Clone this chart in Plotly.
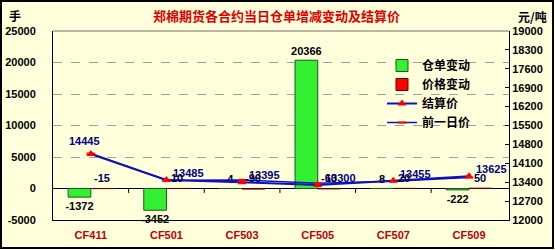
import plotly.graph_objects as go

categories = ['CF411', 'CF501', 'CF503', 'CF505', 'CF507', 'CF509']
warehouse_change = [-1372, -3452, 4, 20366, 8, -222]
price_change = [-15, 10, -90, -60, 20, 50]
settle_price = [14445, 13485, 13395, 13300, 13455, 13625]
prev_price = [14460, 13475, 13485, 13360, 13435, 13575]

left_ticks = [-5000, 0, 5000, 10000, 15000, 20000, 25000]
right_ticks = [12000, 12700, 13400, 14100, 14800, 15500, 16200, 16900, 17600, 18300, 19000]

W, H = 555, 250
ML, MR, MT, MB = 53, 46, 31, 30
PW, PH = W - ML - MR, H - MT - MB

def px_x(p):
    return (p - ML) / PW

def px_y(p):
    return (H - MB - p) / PH

BG = '#FFFFDC'
BOLD = dict(family='Liberation Sans, Arial, sans-serif', weight='bold')
CJK = dict(family='Noto Sans CJK SC, sans-serif', weight='bold')

fig = go.Figure()

fig.add_trace(go.Bar(
    x=categories, y=warehouse_change, name='仓单变动',
    marker=dict(color='#33F033', line=dict(color='#1a5a1a', width=1)),
    text=[str(v) for v in warehouse_change], textposition='outside',
    constraintext='none',
    textfont=dict(size=11, color='black', **BOLD), cliponaxis=False,
))
fig.add_trace(go.Bar(
    x=categories, y=price_change, name='价格变动',
    marker=dict(color='#FF0000', line=dict(color='#600000', width=1)),
    textposition='none',
))
fig.add_trace(go.Scatter(
    x=categories, y=prev_price, name='前一日价', yaxis='y2',
    mode='lines+markers',
    line=dict(color='#1010C0', width=1.5),
    marker=dict(symbol='line-ew', size=6, color='red', line=dict(color='red', width=2)),
))
fig.add_trace(go.Scatter(
    x=categories, y=settle_price, name='结算价', yaxis='y2',
    mode='lines+markers',
    line=dict(color='#1010C0', width=2),
    marker=dict(symbol='triangle-up', size=8, color='red'),
))

# settlement price labels
for i, (c, v) in enumerate(zip(categories, settle_price)):
    if i == 0:
        fig.add_annotation(x=c, y=v, xref='x', yref='y2', text=str(v), showarrow=False,
                           xanchor='center', yanchor='middle', xshift=-6, yshift=13,
                           font=dict(size=11, color='#000080', **BOLD))
    else:
        fig.add_annotation(x=c, y=v, xref='x', yref='y2', text=str(v), showarrow=False,
                           xanchor='left', yanchor='middle', xshift=5, yshift=7,
                           font=dict(size=11, color='#000080', **BOLD))

# price change labels above red bars
for c, v in zip(categories, price_change):
    fig.add_annotation(x=c, y=0, xref='x', yref='y', text=str(v), showarrow=False,
                       xanchor='center', yanchor='middle',
                       xshift=11, yshift=11, font=dict(size=11, color='#000050', **BOLD))

# category boundary ticks on zero line
for i in range(len(categories) - 1):
    fig.add_shape(type='line', xref='x', yref='y', x0=i + 0.5, x1=i + 0.5, y0=0, y1=-700,
                  line=dict(color='black', width=1))

# top border of plot area
fig.add_shape(type='line', xref='paper', yref='paper', x0=0, x1=1, y0=1, y1=1,
              line=dict(color='#707070', width=1))
# outer figure border
fig.add_shape(type='rect', xref='paper', yref='paper',
              x0=px_x(1), x1=px_x(553), y0=px_y(248), y1=px_y(1),
              line=dict(color='black', width=2))

fig.add_annotation(text='郑棉期货各合约当日仓单增减变动及结算价', xref='paper', yref='paper',
                   x=px_x(276), y=px_y(15), showarrow=False, xanchor='center', yanchor='middle',
                   font=dict(size=13, color='#E00000', **CJK))
fig.add_annotation(text='手', xref='paper', yref='paper', x=px_x(15), y=px_y(15),
                   showarrow=False, xanchor='center', yanchor='middle',
                   font=dict(size=12, color='black', **CJK))
fig.add_annotation(text='元/吨', xref='paper', yref='paper', x=px_x(532), y=px_y(16),
                   showarrow=False, xanchor='center', yanchor='middle',
                   font=dict(size=12, color='black', **CJK))

fig.update_layout(
    width=W, height=H,
    margin=dict(l=ML, r=MR, t=MT, b=MB, autoexpand=False),
    paper_bgcolor=BG, plot_bgcolor=BG,
    barmode='group', bargap=0.4, bargroupgap=0,
    showlegend=True,
    legend=dict(x=px_x(382), y=px_y(51), xanchor='left', yanchor='top',
                bgcolor='rgba(0,0,0,0)', font=dict(size=12, color='black', **CJK),
                tracegroupgap=0, itemwidth=30, traceorder='normal'),
    xaxis=dict(type='category', showline=True, linecolor='black', linewidth=1, automargin=False,
               ticks='', tickfont=dict(size=11, color='#C00000', **BOLD),
               ticklabelstandoff=5, showgrid=False),
    yaxis=dict(range=[-5000, 25000], tickvals=left_ticks, ticktext=[str(v) for v in left_ticks],
               showline=True, linecolor='black', automargin=False,
               ticks='', tickfont=dict(size=11, color='black', **BOLD),
               ticklabelstandoff=14,
               showgrid=True, gridcolor='#A0A0A0', griddash='dash', gridwidth=1,
               zeroline=True, zerolinecolor='black', zerolinewidth=1),
    yaxis2=dict(range=[12000, 19000], tickvals=right_ticks, ticktext=[str(v) for v in right_ticks],
                overlaying='y', side='right', automargin=False,
                showline=True, linecolor='black', ticks='inside', ticklen=4, tickcolor='black',
                ticklabelstandoff=0,
                tickfont=dict(size=11, color='black', **BOLD), showgrid=False, zeroline=False),
)

fig.data[0].legendrank = 1
fig.data[1].legendrank = 2
fig.data[3].legendrank = 3
fig.data[2].legendrank = 4

fig.write_html('out.html')
